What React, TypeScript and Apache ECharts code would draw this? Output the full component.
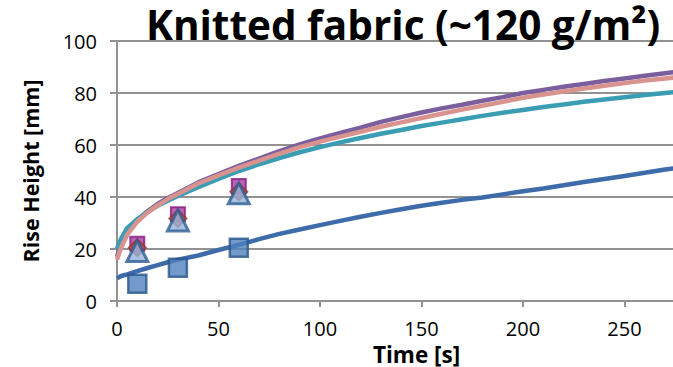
import React, { useEffect, useRef } from "react";
import * as echarts from "echarts";

const TITLE = "Knitted fabric (~120 g/m²)";
const X_NAME = "Time [s]";
const Y_NAME = "Rise Height [mm]";

const TIME = [0, 2, 5, 10, 15, 20, 25, 30, 40, 50, 60, 70, 80, 90, 100, 110, 120, 130, 140, 150, 160, 170, 180, 190, 200, 210, 220, 230, 240, 250, 260, 270, 280];

const PURPLE = [17, 22, 26.5, 31, 34.5, 37.3, 39.6, 41.5, 45.6, 48.8, 52, 54.8, 57.6, 60.2, 62.5, 64.6, 66.7, 68.9, 70.7, 72.5, 74.1, 75.5, 77, 78.4, 80, 81.2, 82.4, 83.5, 84.6, 85.6, 86.6, 87.6, 88.5];
const PINK = [16, 20.5, 25.5, 30.5, 34, 36.8, 39.2, 41.2, 45.2, 48.3, 51.3, 54, 56.7, 59.2, 61.3, 63.2, 65.1, 67, 68.7, 70.4, 72, 73.6, 75.1, 76.6, 78.2, 79.4, 80.6, 81.7, 82.8, 83.8, 84.8, 85.6, 86.4];
const TEAL = [20, 24, 28, 31.5, 34.2, 36.6, 38.6, 40.4, 43.8, 47, 50, 52.6, 55, 57.2, 59.2, 61, 62.7, 64.3, 65.8, 67.3, 68.6, 69.9, 71.2, 72.4, 73.5, 74.6, 75.6, 76.6, 77.5, 78.4, 79.2, 80, 80.7];
const BLUE = [8.7, 9.6, 10.2, 11.5, 12.7, 13.8, 14.9, 15.9, 17.5, 19.6, 21.6, 23.8, 25.8, 27.5, 29.2, 30.8, 32.4, 33.9, 35.3, 36.6, 37.8, 38.9, 39.8, 41, 42.2, 43.3, 44.5, 45.8, 46.9, 48.1, 49.3, 50.6, 51.6];

const MARK_TIME = [10, 30, 60];
const MAGENTA_SQ = [22, 33.4, 44.2];
const RED_DIAMOND = [20.5, 31.7, 42];
const TRIANGLE = [19.2, 31, 41.4];
const BLUE_SQ = [6.6, 12.8, 20.5];

const X_TICKS = [0, 50, 100, 150, 200, 250, 300];
const Y_TICKS = [0, 20, 40, 60, 80, 100];

const FONT = "'Open Sans', 'Noto Sans', sans-serif";
const GRID_COLOR = "#929292";

function pairs(xs: number[], ys: number[]) {
  return xs.map((x, i) => [x, ys[i]]);
}

export default function App() {
  const ref = useRef<HTMLDivElement>(null);
  useEffect(() => {
    if (!ref.current) return;
    const chart = echarts.init(ref.current, undefined, { renderer: "svg" });
    const lineSeries = (name: string, ys: number[], color: string, z: number) => ({
      name,
      type: "line",
      data: pairs(TIME, ys),
      showSymbol: false,
      symbol: "none",
      lineStyle: { color, width: 4.5 },
      z,
    });
    chart.setOption({
      animation: false,
      title: {
        text: TITLE,
        left: 146,
        top: 4,
        padding: 0,
        textStyle: { fontFamily: FONT, fontSize: 40.5, lineHeight: 40, fontWeight: "bold", color: "#000" },
      },
      grid: { left: 117, top: 41, width: 609, height: 260, containLabel: false, outerBoundsMode: "none" },
      xAxis: {
        type: "value",
        min: X_TICKS[0],
        max: X_TICKS[X_TICKS.length - 1],
        interval: 50,
        name: X_NAME,
        nameLocation: "middle",
        nameGap: 35,
        nameTextStyle: {
          fontFamily: FONT,
          fontSize: 22.5,
          lineHeight: 23,
          fontWeight: "bold",
          color: "#000",
          padding: [0, 10, 0, 0],
        },
        axisLine: { lineStyle: { color: GRID_COLOR, width: 2 } },
        axisTick: { show: true, length: 6, lineStyle: { color: GRID_COLOR, width: 2 } },
        axisLabel: { fontFamily: FONT, fontSize: 20, color: "#000", margin: 17, showMaxLabel: false },
        splitLine: { show: false },
      },
      yAxis: {
        type: "value",
        min: Y_TICKS[0],
        max: Y_TICKS[Y_TICKS.length - 1],
        interval: 20,
        name: Y_NAME,
        nameLocation: "middle",
        nameGap: 76,
        nameRotate: 90,
        nameTextStyle: { fontFamily: FONT, fontSize: 21.5, fontWeight: "bold", color: "#000" },
        axisLine: { show: true, lineStyle: { color: GRID_COLOR, width: 2 } },
        axisTick: { show: true, length: 7, lineStyle: { color: GRID_COLOR, width: 2 } },
        axisLabel: { fontFamily: FONT, fontSize: 20, color: "#000", margin: 20 },
        splitLine: { show: true, lineStyle: { color: GRID_COLOR, width: 2 } },
      },
      series: [
        lineSeries("Series A", PURPLE, "#7A5E9E", 2),
        lineSeries("Series B", TEAL, "#3A9DB4", 3),
        lineSeries("Series C", PINK, "#D8938F", 4),
        lineSeries("Series D", BLUE, "#3E6CAA", 2),
        {
          name: "Marker 1",
          type: "scatter",
          data: pairs(MARK_TIME, MAGENTA_SQ),
          symbol: "rect",
          symbolSize: 14,
          itemStyle: { color: "#A93D9E", borderColor: "#8A1684", borderWidth: 2 },
          z: 5,
        },
        {
          name: "Marker 2",
          type: "scatter",
          data: pairs(MARK_TIME, RED_DIAMOND),
          symbol: "diamond",
          symbolSize: 17,
          itemStyle: { color: "#C0504D", borderColor: "#943634", borderWidth: 2 },
          z: 6,
        },
        {
          name: "Marker 3",
          type: "scatter",
          data: pairs(MARK_TIME, TRIANGLE),
          symbol: "triangle",
          symbolSize: 21,
          itemStyle: { color: "#95B3D7", borderColor: "#2D5C92", borderWidth: 3 },
          z: 7,
        },
        {
          name: "Marker 4",
          type: "scatter",
          data: pairs(MARK_TIME, BLUE_SQ),
          symbol: "rect",
          symbolSize: 18,
          itemStyle: { color: "#4F81BD", borderColor: "#2B568C", borderWidth: 2.5 },
          z: 8,
        },
      ],
    });
    return () => chart.dispose();
  }, []);
  return (
    <div
      ref={ref}
      style={{ position: "fixed", left: 0, top: 0, width: 673, height: 367, background: "#fff" }}
    />
  );
}
